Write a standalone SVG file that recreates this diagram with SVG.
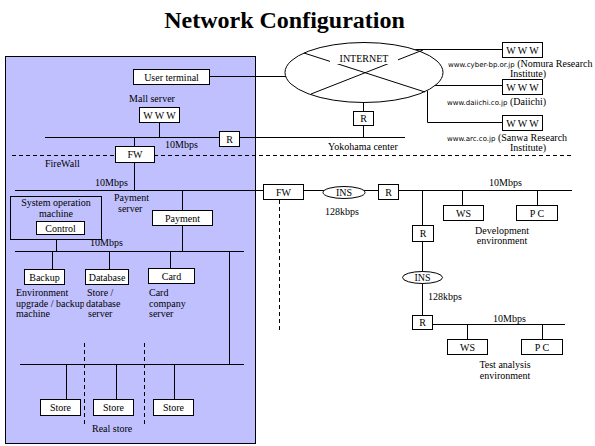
<svg xmlns="http://www.w3.org/2000/svg" width="595" height="446" viewBox="0 0 595 446">
<style>
text{font-family:"Liberation Serif","DejaVu Serif",serif;font-size:10px;fill:#000}
.b{fill:#fff;stroke:#000;stroke-width:1}
.l{stroke:#000;stroke-width:1;fill:none}
.d{stroke:#000;stroke-width:1;fill:none;stroke-dasharray:4 3}
.c{text-anchor:middle}
.u{font-size:7px;font-family:"DejaVu Sans",sans-serif}
</style>
<rect width="595" height="446" fill="#fff"/>
<text x="284.5" y="28" class="c" style="font-size:24px;font-weight:bold">Network Configuration</text>
<rect id="site" x="5.5" y="56.5" width="250" height="387" fill="#c0c0ff" stroke="#000"/>

<g id="connectors">
<line class="l" x1="209" y1="76.5" x2="286" y2="76.5"/>
<line class="l" x1="159.5" y1="122" x2="159.5" y2="137"/>
<line class="l" x1="45" y1="137.5" x2="405" y2="137.5"/>
<line class="l" x1="134.5" y1="137" x2="134.5" y2="146"/>
<line class="l" x1="134.5" y1="162" x2="134.5" y2="191"/>
<line class="d" x1="12" y1="155.5" x2="115" y2="155.5"/>
<line class="d" x1="154" y1="155.5" x2="572" y2="155.5"/>
<line class="l" x1="363.5" y1="102" x2="363.5" y2="137"/>
<line class="l" x1="410" y1="49.5" x2="502" y2="49.5"/>
<line class="l" x1="427" y1="85.5" x2="502" y2="85.5"/>
<polyline class="l" points="427.5,91 427.5,122.5 502,122.5"/>
<line class="l" x1="15" y1="190.5" x2="572" y2="190.5"/>
<line class="l" x1="182.5" y1="190" x2="182.5" y2="251"/>
<line class="l" x1="56.5" y1="239" x2="56.5" y2="251"/>
<line class="l" x1="15" y1="251.5" x2="244" y2="251.5"/>
<line class="l" x1="52.5" y1="251" x2="52.5" y2="269"/>
<line class="l" x1="109.5" y1="251" x2="109.5" y2="269"/>
<line class="l" x1="170.5" y1="251" x2="170.5" y2="269"/>
<line class="l" x1="229.5" y1="251" x2="229.5" y2="364"/>
<line class="l" x1="20" y1="364.5" x2="244" y2="364.5"/>
<line class="l" x1="66.5" y1="364" x2="66.5" y2="399"/>
<line class="l" x1="116.5" y1="364" x2="116.5" y2="399"/>
<line class="l" x1="174.5" y1="364" x2="174.5" y2="399"/>
<line class="d" x1="84.5" y1="343" x2="84.5" y2="427"/>
<line class="d" x1="144.5" y1="343" x2="144.5" y2="427"/>
<line class="d" x1="279.5" y1="200" x2="279.5" y2="333"/>
<line class="l" x1="462.5" y1="191" x2="462.5" y2="205"/>
<line class="l" x1="537.5" y1="191" x2="537.5" y2="205"/>
<line class="l" x1="422.5" y1="191" x2="422.5" y2="315"/>
<line class="l" x1="432" y1="324.5" x2="565" y2="324.5"/>
<line class="l" x1="467.5" y1="324" x2="467.5" y2="339"/>
<line class="l" x1="542.5" y1="324" x2="542.5" y2="339"/>
</g>

<g id="internet">
<ellipse cx="364" cy="72.5" rx="79" ry="30" fill="#fff" stroke="#000"/>
<line class="l" x1="304" y1="53" x2="425" y2="92"/>
<line class="l" x1="311" y1="94" x2="423" y2="50"/>
<rect x="330" y="51" width="68" height="13" fill="#fff"/>
<text x="364" y="61.5" class="c">INTERNET</text>
</g>
<g id="www1"><rect class="b" x="502.5" y="42.5" width="40" height="15"/><text x="522.5" y="54" class="c">W W W</text></g>
<g id="www2"><rect class="b" x="502.5" y="79.5" width="40" height="15"/><text x="522.5" y="91" class="c">W W W</text></g>
<g id="www3"><rect class="b" x="502.5" y="115.5" width="40" height="15"/><text x="522.5" y="127" class="c">W W W</text></g>
<text x="448" y="67"><tspan class="u">www.cyber-bp.or.jp</tspan> (Nomura Research</text>
<text x="528" y="77" class="c">Institute)</text>
<text x="447" y="105"><tspan class="u">www.daiichi.co.jp</tspan> (Daiichi)</text>
<text x="447" y="141"><tspan class="u">www.arc.co.jp</tspan> (Sanwa Research</text>
<text x="528" y="151" class="c">Institute)</text>
<g id="r-yokohama"><rect class="b" x="353.5" y="111.5" width="20" height="14"/><text x="363.5" y="122" class="c">R</text></g>
<text x="328" y="150">Yokohama center</text>

<g id="user-terminal"><rect class="b" x="133.5" y="69.5" width="76" height="15"/><text x="171.5" y="80.5" class="c">User terminal</text></g>
<text x="152" y="102" class="c">Mall server</text>
<g id="mall-www"><rect class="b" x="139.5" y="107.5" width="40" height="15"/><text x="159.5" y="119" class="c">W W W</text></g>
<g id="r-mall"><rect class="b" x="219.5" y="131.5" width="20" height="15"/><text x="229.5" y="142.5" class="c">R</text></g>
<text x="165" y="148">10Mbps</text>
<g id="fw1"><rect class="b" x="115.5" y="146.5" width="39" height="16"/><text x="135" y="158" class="c">FW</text></g>
<text x="45" y="167">FireWall</text>
<text x="95" y="186">10Mbps</text>

<g id="sysop"><rect x="10.5" y="196.5" width="91" height="43" fill="none" stroke="#000"/>
<text x="56" y="206" class="c">System operation</text><text x="56" y="216.5" class="c">machine</text>
<rect class="b" x="36.5" y="221.5" width="48" height="13"/><text x="60.5" y="231.5" class="c">Control</text></g>
<text x="114" y="201">Payment</text>
<text x="118" y="212">server</text>
<g id="payment"><rect class="b" x="152.5" y="210.5" width="60" height="15"/><text x="182.5" y="221.5" class="c">Payment</text></g>
<text x="90" y="246">10Mbps</text>
<g id="backup"><rect class="b" x="24.5" y="269.5" width="40" height="15"/><text x="44.5" y="280.5" class="c">Backup</text></g>
<g id="database"><rect class="b" x="85.5" y="269.5" width="43" height="15"/><text x="107" y="280.5" class="c">Database</text></g>
<g id="card"><rect class="b" x="148.5" y="268.5" width="46" height="15"/><text x="171.5" y="279.5" class="c">Card</text></g>
<text x="16" y="296">Environment</text>
<text x="16" y="306.5">upgrade / backup</text>
<text x="16" y="317">machine</text>
<rect x="84" y="299" width="4" height="9" fill="#c0c0ff"/>
<text x="87" y="296">Store /</text>
<text x="86" y="306.5">database</text>
<text x="88" y="317">server</text>
<text x="149" y="296">Card</text>
<text x="149" y="306.5">company</text>
<text x="149" y="317">server</text>
<g id="store1"><rect class="b" x="40.5" y="399.5" width="40" height="16"/><text x="60.5" y="411" class="c">Store</text></g>
<g id="store2"><rect class="b" x="93.5" y="399.5" width="40" height="16"/><text x="113.5" y="411" class="c">Store</text></g>
<g id="store3"><rect class="b" x="153.5" y="399.5" width="40" height="16"/><text x="173.5" y="411" class="c">Store</text></g>
<text x="92" y="432">Real store</text>

<g id="fw2"><rect class="b" x="263.5" y="184.5" width="40" height="15"/><text x="283.5" y="195.5" class="c">FW</text></g>
<g id="ins1"><ellipse cx="344" cy="192.5" rx="21" ry="6" fill="#fff" stroke="#000"/><text x="344" y="196" class="c">INS</text></g>
<g id="r2"><rect class="b" x="378.5" y="184.5" width="20" height="15"/><text x="388.5" y="195.5" class="c">R</text></g>
<text x="325" y="215">128kbps</text>
<text x="489" y="186">10Mbps</text>
<g id="ws1"><rect class="b" x="443.5" y="205.5" width="40" height="15"/><text x="463.5" y="216.5" class="c">WS</text></g>
<g id="pc1"><rect class="b" x="516.5" y="205.5" width="41" height="15"/><text x="537" y="216.5" class="c">P C</text></g>
<text x="502" y="234" class="c">Development</text>
<text x="502" y="244" class="c">environment</text>
<g id="r3"><rect class="b" x="412.5" y="225.5" width="21" height="16"/><text x="423" y="237" class="c">R</text></g>
<g id="ins2"><ellipse cx="422.5" cy="277.5" rx="20" ry="6" fill="#fff" stroke="#000"/><text x="422.5" y="281" class="c">INS</text></g>
<text x="428" y="300">128kbps</text>
<g id="r4"><rect class="b" x="412.5" y="315.5" width="20" height="14"/><text x="422.5" y="326" class="c">R</text></g>
<text x="493" y="322">10Mbps</text>
<g id="ws2"><rect class="b" x="447.5" y="339.5" width="40" height="15"/><text x="467.5" y="350.5" class="c">WS</text></g>
<g id="pc2"><rect class="b" x="521.5" y="339.5" width="41" height="15"/><text x="542" y="350.5" class="c">P C</text></g>
<text x="505" y="368" class="c">Test analysis</text>
<text x="505" y="379" class="c">environment</text>
</svg>
